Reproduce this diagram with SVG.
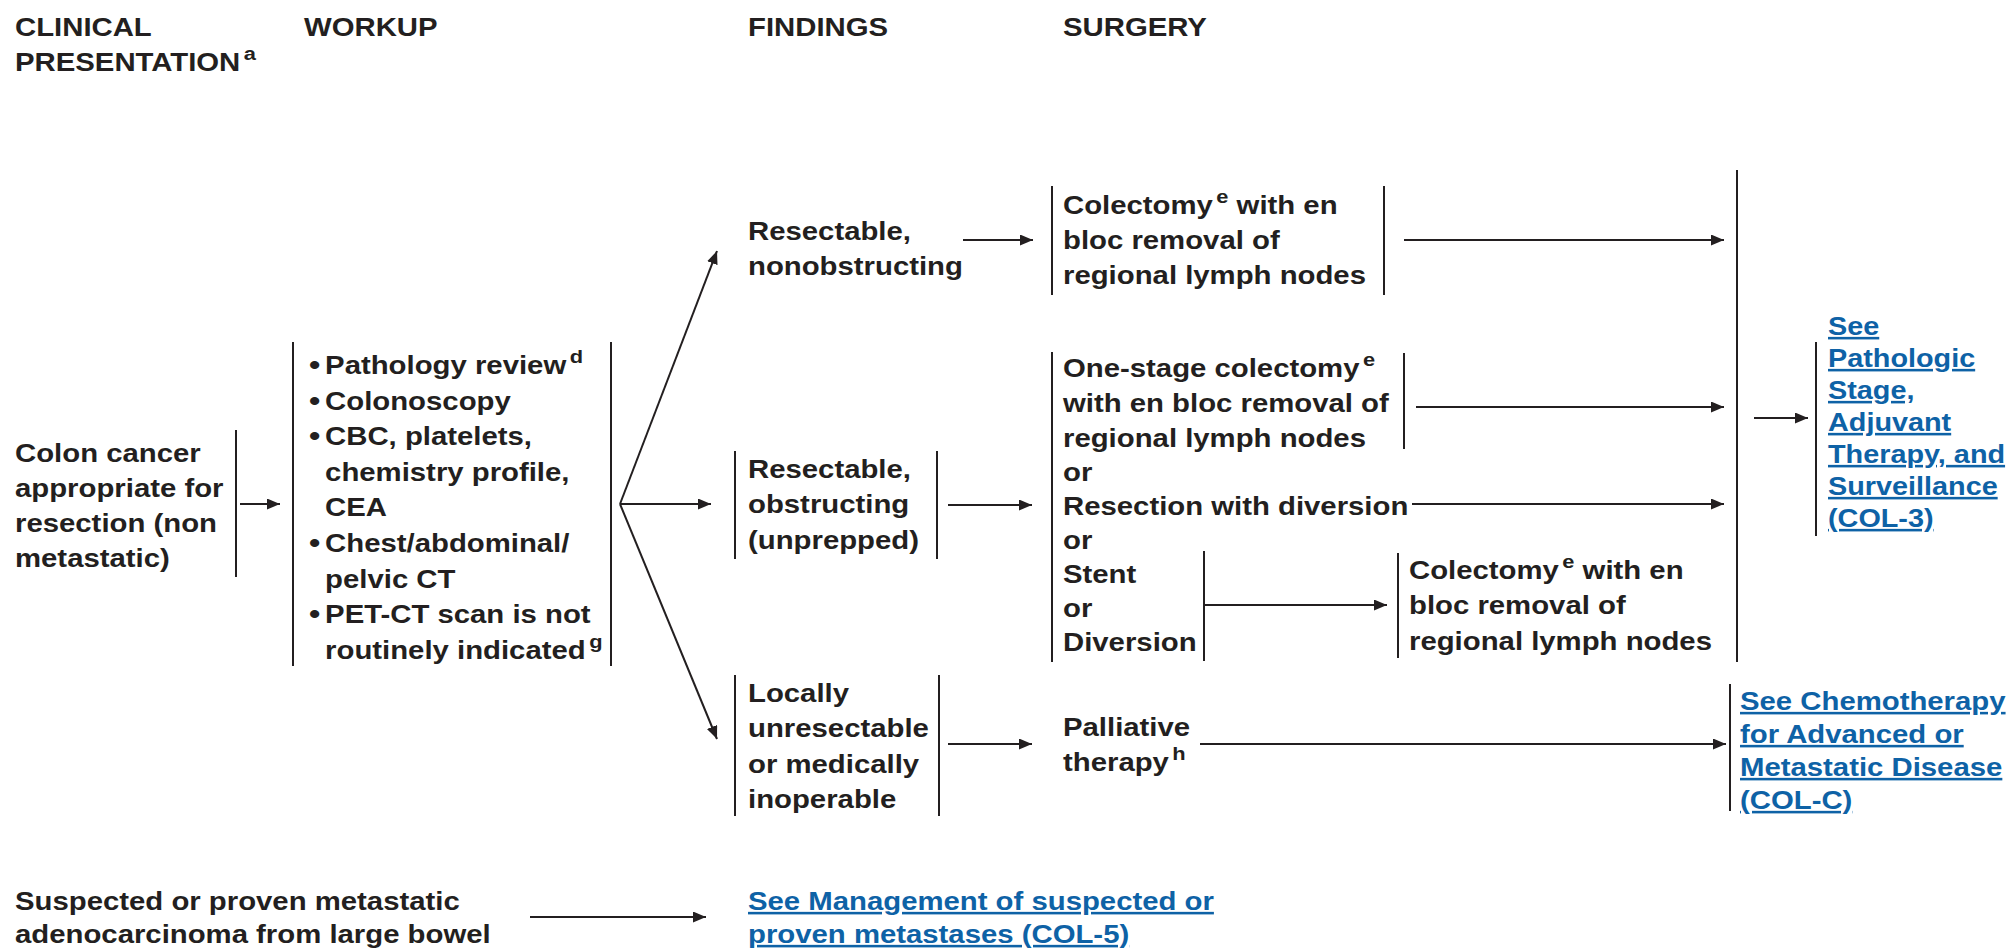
<svg xmlns="http://www.w3.org/2000/svg" width="2009" height="948" viewBox="0 0 2009 948">
<defs>
<style>
.t{font-family:"Liberation Sans",Arial,Helvetica,sans-serif;font-weight:bold;font-size:25.5px;fill:#231f20}
.l{fill:#0e62a6;text-decoration:underline}
.s{font-size:19px}
.b{font-size:28px}
.ln{stroke:#231f20;stroke-width:2;fill:none}
.ar{stroke:#231f20;stroke-width:2;fill:none;marker-end:url(#ah)}
</style>
<marker id="ah" markerUnits="userSpaceOnUse" markerWidth="14" markerHeight="12" refX="13" refY="5.5" orient="auto">
<path d="M0,0 L13,5.5 L0,11 z" fill="#231f20"/>
</marker>
</defs>
<rect width="2009" height="948" fill="#ffffff"/>

<g id="headers">
<text class="t" transform="translate(15 36) scale(1.15 1)"><tspan x="0" y="0">CLINICAL</tspan><tspan x="0" y="35">PRESENTATION<tspan class="s" dx="3" dy="-11">a</tspan></tspan></text>
<text class="t" transform="translate(304 36) scale(1.15 1)">WORKUP</text>
<text class="t" transform="translate(748 36) scale(1.15 1)">FINDINGS</text>
<text class="t" transform="translate(1063 36) scale(1.15 1)">SURGERY</text>
</g>

<g id="node-colon">
<text class="t" transform="translate(15 462) scale(1.15 1)"><tspan x="0" y="0">Colon cancer</tspan><tspan x="0" y="35">appropriate for</tspan><tspan x="0" y="70">resection (non</tspan><tspan x="0" y="105">metastatic)</tspan></text>
<line class="ln" x1="236" y1="430" x2="236" y2="577"/>
</g>

<g id="node-workup">
<line class="ln" x1="293" y1="342" x2="293" y2="666"/>
<text class="t" transform="translate(309 374) scale(1.15 1)">
<tspan class="b" x="0" y="0">•</tspan><tspan x="14" y="0">Pathology review<tspan class="s" dx="3" dy="-11">d</tspan></tspan>
<tspan class="b" x="0" y="35.6">•</tspan><tspan x="14" y="35.6">Colonoscopy</tspan>
<tspan class="b" x="0" y="71.2">•</tspan><tspan x="14" y="71.2">CBC, platelets,</tspan>
<tspan x="14" y="106.8">chemistry profile,</tspan>
<tspan x="14" y="142.4">CEA</tspan>
<tspan class="b" x="0" y="178">•</tspan><tspan x="14" y="178">Chest/abdominal/</tspan>
<tspan x="14" y="213.6">pelvic CT</tspan>
<tspan class="b" x="0" y="249.2">•</tspan><tspan x="14" y="249.2">PET-CT scan is not</tspan>
<tspan x="14" y="284.8">routinely indicated<tspan class="s" dx="3" dy="-11">g</tspan></tspan>
</text>
<line class="ln" x1="611" y1="342" x2="611" y2="666"/>
</g>

<g id="node-nonobstructing">
<text class="t" transform="translate(748 240) scale(1.15 1)"><tspan x="0" y="0">Resectable,</tspan><tspan x="0" y="35">nonobstructing</tspan></text>
</g>

<g id="node-colectomy1">
<line class="ln" x1="1052" y1="186" x2="1052" y2="295"/>
<text class="t" transform="translate(1063 214) scale(1.15 1)"><tspan x="0" y="0">Colectomy<tspan class="s" dx="3" dy="-11">e</tspan><tspan dy="11"> with en</tspan></tspan><tspan x="0" y="35">bloc removal of</tspan><tspan x="0" y="70">regional lymph nodes</tspan></text>
<line class="ln" x1="1384" y1="186" x2="1384" y2="295"/>
</g>

<g id="node-obstructing">
<line class="ln" x1="735" y1="451" x2="735" y2="559"/>
<text class="t" transform="translate(748 478) scale(1.15 1)"><tspan x="0" y="0">Resectable,</tspan><tspan x="0" y="35.5">obstructing</tspan><tspan x="0" y="71">(unprepped)</tspan></text>
<line class="ln" x1="937" y1="451" x2="937" y2="559"/>
</g>

<g id="node-surgery2">
<line class="ln" x1="1052" y1="352" x2="1052" y2="662"/>
<text class="t" transform="translate(1063 377) scale(1.15 1)">
<tspan x="0" y="0">One-stage colectomy<tspan class="s" dx="3" dy="-11">e</tspan></tspan>
<tspan x="0" y="35">with en bloc removal of</tspan>
<tspan x="0" y="70">regional lymph nodes</tspan>
<tspan x="0" y="104">or</tspan>
<tspan x="0" y="138">Resection with diversion</tspan>
<tspan x="0" y="172">or</tspan>
<tspan x="0" y="206">Stent</tspan>
<tspan x="0" y="240">or</tspan>
<tspan x="0" y="274">Diversion</tspan>
</text>
<line class="ln" x1="1404" y1="353" x2="1404" y2="449"/>
<line class="ln" x1="1204" y1="551" x2="1204" y2="661"/>
</g>

<g id="node-colectomy2">
<line class="ln" x1="1398" y1="553" x2="1398" y2="658"/>
<text class="t" transform="translate(1409 579) scale(1.15 1)"><tspan x="0" y="0">Colectomy<tspan class="s" dx="3" dy="-11">e</tspan><tspan dy="11"> with en</tspan></tspan><tspan x="0" y="35.5">bloc removal of</tspan><tspan x="0" y="71">regional lymph nodes</tspan></text>
</g>

<g id="node-collector">
<line class="ln" x1="1737" y1="170" x2="1737" y2="662"/>
</g>

<g id="node-col3">
<line class="ln" x1="1816" y1="342" x2="1816" y2="536"/>
<text class="t l" transform="translate(1828 335) scale(1.13 1)"><tspan x="0" y="0">See</tspan><tspan x="0" y="32">Pathologic</tspan><tspan x="0" y="64">Stage,</tspan><tspan x="0" y="96">Adjuvant</tspan><tspan x="0" y="128">Therapy, and</tspan><tspan x="0" y="160">Surveillance</tspan><tspan x="0" y="192">(COL-3)</tspan></text>
</g>

<g id="node-unresectable">
<line class="ln" x1="735" y1="675" x2="735" y2="816"/>
<text class="t" transform="translate(748 702) scale(1.15 1)"><tspan x="0" y="0">Locally</tspan><tspan x="0" y="35.5">unresectable</tspan><tspan x="0" y="71">or medically</tspan><tspan x="0" y="106.5">inoperable</tspan></text>
<line class="ln" x1="939" y1="675" x2="939" y2="816"/>
</g>

<g id="node-palliative">
<text class="t" transform="translate(1063 736) scale(1.15 1)"><tspan x="0" y="0">Palliative</tspan><tspan x="0" y="35">therapy<tspan class="s" dx="3" dy="-11">h</tspan></tspan></text>
</g>

<g id="node-colc">
<line class="ln" x1="1730" y1="684" x2="1730" y2="811"/>
<text class="t l" transform="translate(1740 710) scale(1.15 1)"><tspan x="0" y="0">See Chemotherapy</tspan><tspan x="0" y="33">for Advanced or</tspan><tspan x="0" y="66">Metastatic Disease</tspan><tspan x="0" y="99">(COL-C)</tspan></text>
</g>

<g id="node-metastatic">
<text class="t" transform="translate(15 910) scale(1.15 1)"><tspan x="0" y="0">Suspected or proven metastatic</tspan><tspan x="0" y="33">adenocarcinoma from large bowel</tspan></text>
</g>

<g id="node-col5">
<text class="t l" transform="translate(748 910) scale(1.15 1)"><tspan x="0" y="0">See Management of suspected or</tspan><tspan x="0" y="33">proven metastases (COL-5)</tspan></text>
</g>

<g id="connectors">
<line class="ar" x1="240" y1="504" x2="280" y2="504"/>
<line class="ar" x1="620" y1="504" x2="717" y2="251"/>
<line class="ar" x1="620" y1="504" x2="711" y2="504"/>
<line class="ar" x1="620" y1="504" x2="717" y2="739"/>
<line class="ar" x1="963" y1="240" x2="1033" y2="240"/>
<line class="ar" x1="1404" y1="240" x2="1724" y2="240"/>
<line class="ar" x1="948" y1="505" x2="1032" y2="505"/>
<line class="ar" x1="1416" y1="407" x2="1724" y2="407"/>
<line class="ar" x1="1412" y1="504" x2="1724" y2="504"/>
<line class="ar" x1="1204" y1="605" x2="1387" y2="605"/>
<line class="ar" x1="1754" y1="418" x2="1808" y2="418"/>
<line class="ar" x1="948" y1="744" x2="1032" y2="744"/>
<line class="ar" x1="1200" y1="744" x2="1726" y2="744"/>
<line class="ar" x1="530" y1="917" x2="706" y2="917"/>
</g>
</svg>
